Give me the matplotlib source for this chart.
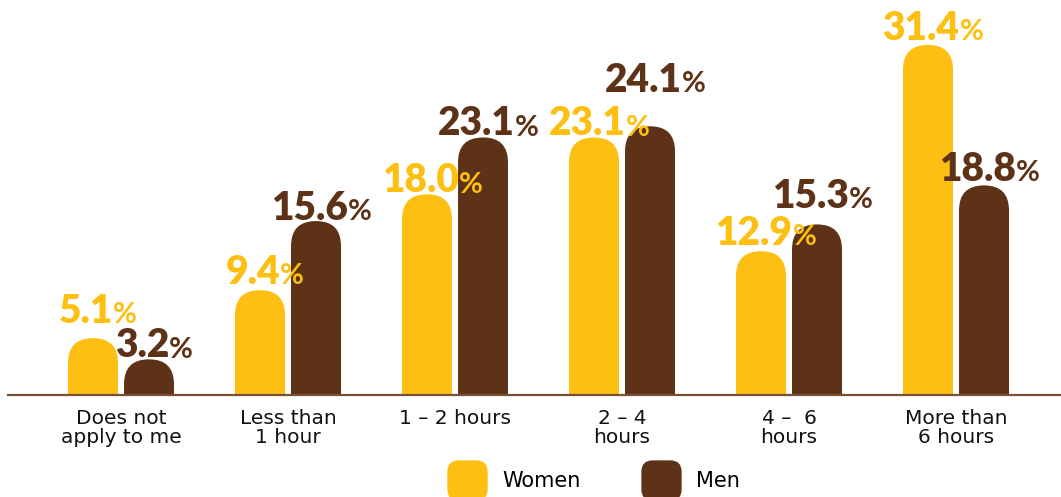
import matplotlib.pyplot as plt
from matplotlib.patches import FancyBboxPatch, BoxStyle
from matplotlib.lines import Line2D

categories = ['Does not\napply to me', 'Less than\n1 hour', '1 – 2 hours',
              '2 – 4\nhours', '4 –  6\nhours', 'More than\n6 hours']
women = [5.1, 9.4, 18.0, 23.1, 12.9, 31.4]
men = [3.2, 15.6, 23.1, 24.1, 15.3, 18.8]
series = ['Women', 'Men']

c_women = '#FCBF12'
c_men = '#5E3217'
c_axis = '#7A5034'

# label lift above bar top (points), hand tuned to avoid overlaps like the original
lift_women = [11, 4.5, 1.5, 1.5, 4.5, 3.5]
lift_men = [1.5, 1, 1.5, 25, 12, 3.5]

W, H = 1061, 497
fig = plt.figure(figsize=(W / 100, H / 100), dpi=100)
ax = fig.add_axes([0, 102 / H, 1, 395 / H])
ax.set_xlim(-121 / 167, (W - 121) / 167)
ax.set_ylim(0, 395 / 11.15)

for s in ax.spines.values():
    s.set_visible(False)
ax.set_yticks([])
ax.set_xticks(range(len(categories)))
ax.set_xticklabels(categories, fontsize=14.5, family='DejaVu Sans', color='#111111',
                   linespacing=0.98)
ax.tick_params(axis='x', length=0, pad=10)

# aspect so the rounded tops come out as half circles
bb = ax.get_window_extent()
xr = ax.get_xlim()[1] - ax.get_xlim()[0]
yr = ax.get_ylim()[1] - ax.get_ylim()[0]
aspect = (yr / bb.height) / (xr / bb.width)

bw = 0.2994
off = 0.1677
r = bw / 2

for vals, col, sgn, lifts in [(women, c_women, -1, lift_women), (men, c_men, 1, lift_men)]:
    for i, v in enumerate(vals):
        xc = i + sgn * off
        p = FancyBboxPatch((xc - bw / 2, -r * aspect), bw, v + r * aspect,
                           boxstyle=f'round,pad=0,rounding_size={r}',
                           mutation_aspect=aspect, fc=col, ec='none', zorder=2)
        ax.add_patch(p)
        t = ax.annotate(f'{v:.1f}', xy=(xc, v), xytext=(-5, lifts[i]),
                        textcoords='offset points', ha='center', va='baseline',
                        fontsize=28, fontweight='heavy', family=['Lato', 'DejaVu Sans'],
                        color=col, zorder=3, annotation_clip=False)
        ax.annotate('%', xy=(1, 0), xycoords=t, xytext=(0, 1.2),
                    textcoords='offset points', ha='left', va='bottom',
                    fontsize=21, fontweight='bold', family=['Lato', 'DejaVu Sans'],
                    color=col, zorder=3, annotation_clip=False)

ax.axhline(0, xmin=8 / W, xmax=1, color=c_axis, lw=1.6, zorder=4, clip_on=False)

# legend with rounded square markers
sq = BoxStyle.Round(pad=0, rounding_size=0.28)(-0.5, -0.5, 1, 1, 1.0)
handles = [Line2D([], [], ls='none', marker=sq, markersize=29, mfc=c, mec='none')
           for c in (c_women, c_men)]
fig.legend(handles, series, loc='center left', bbox_to_anchor=(446 / W, 16 / H),
           frameon=False, ncol=2, handlelength=2, handletextpad=0.68,
           columnspacing=2.9, borderpad=0, borderaxespad=0,
           prop={'family': 'DejaVu Sans', 'size': 15})

fig.savefig('out.png', dpi=100)
